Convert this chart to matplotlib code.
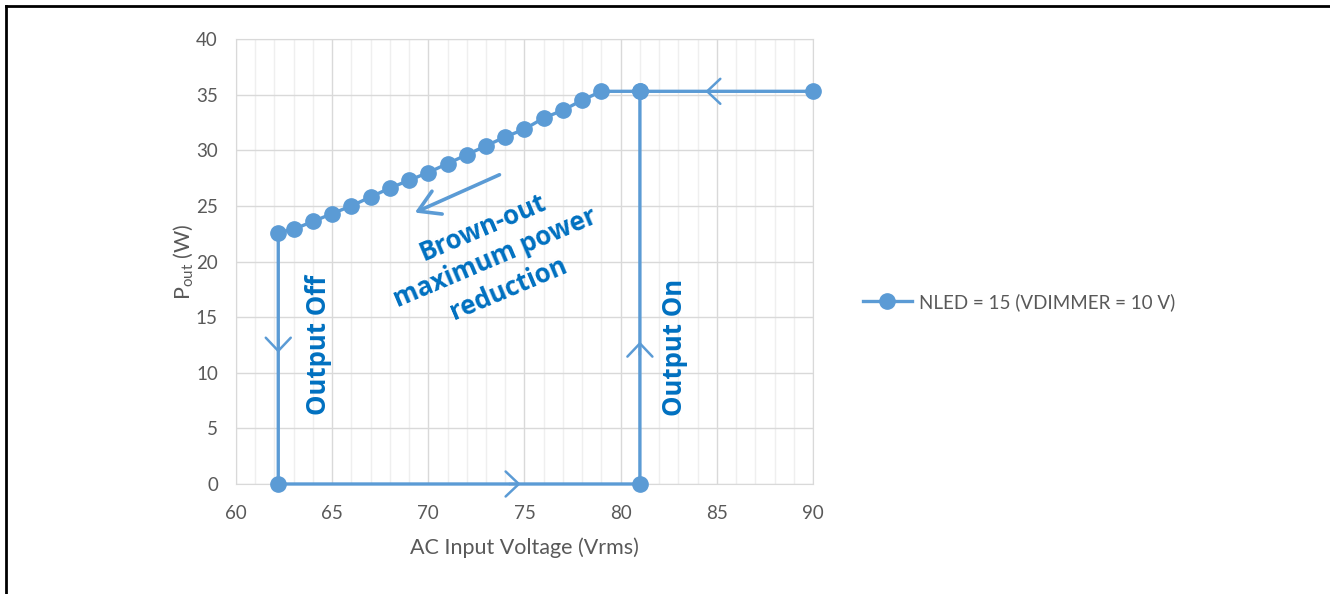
import matplotlib.pyplot as plt
from matplotlib.lines import Line2D
from matplotlib.ticker import MultipleLocator

# series traced as one closed hysteresis loop (Vin, Pout)
vin = [90, 81, 81, 62.2, 62.2, 63, 64, 65, 66, 67, 68, 69, 70, 71, 72,
       73, 74, 75, 76, 77, 78, 79, 81]
pout = [35.3, 35.3, 0, 0, 22.6, 22.9, 23.6, 24.3, 25.0, 25.8, 26.6, 27.3,
        28.0, 28.8, 29.6, 30.4, 31.2, 31.9, 32.9, 33.6, 34.5, 35.3, 35.3]
series_label = 'NLED = 15 (VDIMMER = 10 V)'

# direction chevrons: (tip x, tip y, dx, dy)
chevrons = [(84.4, 35.3, -1, 0), (62.2, 11.8, 0, -1),
            (74.8, 0, 1, 0), (81, 12.8, 0, 1)]

blue = '#5B9BD5'
txt_blue = '#0070C0'
gray = '#595959'

plt.rcParams['font.family'] = ['Lato', 'DejaVu Sans']

fig = plt.figure(figsize=(13.3, 5.94), dpi=100)
ax = fig.add_axes([0.1774, 0.1852, 0.4339, 0.7491])

ax.plot(vin, pout, color=blue, lw=2.4, marker='o', ms=11,
        markerfacecolor=blue, markeredgecolor=blue, zorder=3, clip_on=False)

ax.set_xlim(60, 90)
ax.set_ylim(0, 40)
ax.xaxis.set_major_locator(MultipleLocator(5))
ax.xaxis.set_minor_locator(MultipleLocator(1))
ax.yaxis.set_major_locator(MultipleLocator(5))
ax.grid(True, which='major', color='#D9D9D9', lw=1.0, zorder=0)
ax.grid(True, which='minor', axis='x', color='#EFEFEF', lw=1.0, zorder=0)
ax.set_axisbelow(True)
for s in ax.spines.values():
    s.set_color('#D9D9D9')
ax.tick_params(which='both', length=0, labelsize=13.5, colors=gray)
ax.tick_params(axis='x', pad=15)
ax.tick_params(axis='y', pad=13)

ax.set_xlabel('AC Input Voltage (Vrms)', fontsize=15.5, color=gray, labelpad=11)
ax.set_ylabel('P$_{\\mathregular{out}}$ (W)', fontsize=15.5, color=gray, labelpad=0)

for x, y, dx, dy in chevrons:
    ax.annotate('', xy=(x, y), xytext=(x - dx * 0.6, y - dy * 1.2),
                arrowprops=dict(arrowstyle='->,head_length=0.95,head_width=0.9',
                                color=blue, lw=1.8, shrinkA=0, shrinkB=0),
                zorder=4)

# brown-out arrow
ax.annotate('', xy=(69.3, 24.4), xytext=(73.7, 27.8),
            arrowprops=dict(arrowstyle='->,head_length=1.5,head_width=0.9',
                            color=blue, lw=2.6, shrinkA=0, shrinkB=0))

ax.text(73.5, 20.3, 'Brown-out\nmaximum power\nreduction', rotation=23,
        ha='center', va='center', fontsize=18.5, fontweight='bold',
        family=['Open Sans', 'DejaVu Sans'],
        color=txt_blue, linespacing=1.28, rotation_mode='anchor')
ax.text(64.3, 12.5, 'Output Off', rotation=90, ha='center', va='center',
        fontsize=18.5, fontweight='bold', family=['Open Sans', 'DejaVu Sans'],
        color=txt_blue)
ax.text(82.8, 12.3, 'Output On', rotation=90, ha='center', va='center',
        fontsize=18.5, fontweight='bold', family=['Open Sans', 'DejaVu Sans'],
        color=txt_blue)

handle = Line2D([], [], color=blue, lw=2.4, marker='o', ms=11)
fig.legend([handle], [series_label], loc='center left',
           bbox_to_anchor=(0.636, 0.492), frameon=False, fontsize=13.5,
           labelcolor=gray, handlelength=2.6, handletextpad=0.4)

# page frame (left and top edges)
fig.add_artist(Line2D([0.0045, 0.0045], [0, 0.99], color='black', lw=2,
                      transform=fig.transFigure))
fig.add_artist(Line2D([0.0045, 1], [0.99, 0.99], color='black', lw=2,
                      transform=fig.transFigure))

fig.savefig('out.png', dpi=100)
